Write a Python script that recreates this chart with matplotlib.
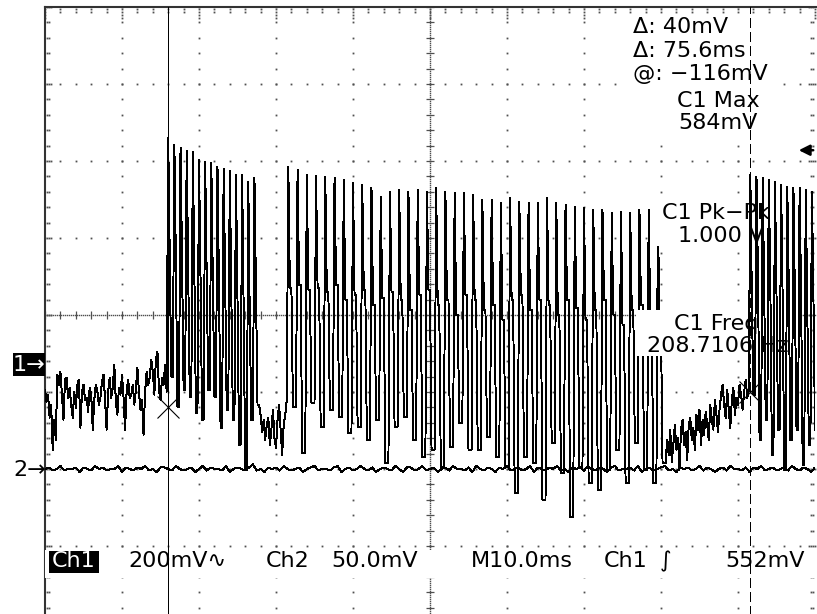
import numpy as np
import matplotlib
matplotlib.use("Agg")
import matplotlib.pyplot as plt
from matplotlib.patches import Rectangle

# ---- channel 1 readings (mV), 0.2 ms per sample, trigger at t = 0 ----
noise_a_mv = [-70, -101, -83, -143, -109, -226, -148, -200, -31, -57,
              -23, -83, -148, -44, -39, -91, -65, -109, -143, -75,
              -117, -57, -44, -169, -75, -57, -96, -91, -127, -65,
              -83, -174, -96, -57, -75, -109, -91, -49, -31, -96,
              -174, -75, -39, -91, -65, -5, -101, -135, -65, -83,
              -31, -91, -174, -75, -44, -91, -83, -57, -109, -70,
              -13, -75, -122, -96, -187, -75, -23, -57, -39, 8,
              -23, -83, 8, 29, -70, -96, -39, -57, -5, -75]

burst1_peak_mv = [584, 566, 558, 551, 548, 527, 522, 519, 509, 504, 499, 488, 488, 470, 480]
burst1_mid_mv = [280, 255, 262, 242, 229, 216, 221, 203, 190, 208, 184, 164, 138, 99, 177]
burst1_low_mv = [-36, -114, -70, -88, -130, -148, -70, -88, -169, -122, -148, -213, -278, -148, -109]

noise_b_mv = [-135, -179, -148, -200, -161, -143, -213, -174, -122, -195,
              -221, -148, -109, -174, -239, -161, -135, -96]

burst2_peak_mv = [509, 501, 488, 486, 483, 480, 475, 467, 462, 454,
                  431, 444, 449, 444, 449, 444, 454, 444, 441, 441,
                  436, 423, 423, 416, 429, 418, 416, 416, 429, 416,
                  410, 405, 403, 397, 397, 390, 392, 390, 397, 397, 392]
burst2_mid_mv = [195, 203, 190, 195, 184, 203, 164, 177, 190, 151,
                 169, 184, 164, 138, 177, 190, 151, 164, 125, 177,
                 164, 138, 151, 112, 164, 177, 138, 164, 151, 125,
                 164, 143, 112, 138, 164, 125, 99, 138, 151, 117, 86]
burst2_low_mv = [-114, -234, -104, -166, -122, -140, -182, -166, -200, -148,
                 -260, -166, -140, -200, -244, -226, -270, -218, -156, -226,
                 -226, -192, -244, -270, -338, -244, -260, -356, -208, -286,
                 -400, -270, -312, -330, -278, -226, -312, -208, -278, -312, -260]

noise_c_mv = [-200, -239, -174, -257, -213, -161, -226, -195, -278, -174,
              -148, -213, -179, -252, -161, -143, -200, -169, -226, -135,
              -174, -122, -213, -148, -187, -127, -161, -200, -109, -148,
              -174, -96, -135, -179, -122, -83, -57, -109, -143, -70,
              -122, -169, -96, -65, -135, -91, -109, -57, -83, -122,
              -75, -44, -91, -70]

burst3_peak_mv = [488, 483, 480, 475, 470, 462, 457, 454, 454, 449, 444]
burst3_mid_mv = [164, 216, 190, 203, 177, 164, 190, 151, 164, 138, 164]
burst3_low_mv = [-83, -200, -148, -239, -174, -278, -200, -174, -265, -213, -174]

# ---- channel 2 readings (mV), 0.5 ms per sample ----
ch2_mv = [0, 1, -1, 0, 2, -1, 0, 0, 1, -2, 1, 0, -1, 2, 0, 1, -1, 0, 0, 2,
          -2, 1, 0, -1, 1, 0, 2, -1, 0, -2, 1, 1, 0, -1, 2, 0, -1, 0, 1, -2,
          0, 2, -1, 1, 0, 0, -1, 2, -2, 0, 1, 0, -1, 1, 3, -1, 0, -2, 1, 0,
          1, -1, 2, 0, -1, 0, 1, -2, 0, 1, 2, -1, 0, 0, -1, 1, 2, -2, 0, 1,
          -1, 0, 2, 0, -1, 1, -2, 0, 1, 0, -1, 2, 0, -2, 1, 1, -1, 0, 2, -1,
          0, 1, -2, 0, 1, -1, 2, 0, 0, -1, 1, -2, 2, 0, -1, 1, 0, -2, 1, 0,
          2, -1, 0, 1, -1, 0, 2, -2, 1, 0, -1, 1, 0, 2, -1, 0, -2, 1, 0, 1,
          -1, 2, 0, -1, 1, 0, -2, 1, 2, -1, 0, 0, 1, -1, 2, -2, 0, 1, -1, 0,
          1, 2, -1, 0, -2, 1, 0, 1, -1, 0, 2, -1, 1, 0, -2, 0, 1, -1, 2, 0,
          0, -1, 1, -2, 1, 0, 2, -1, 0, 1, -1, 0, 1, -1, 2, 0, -1, 1, 0, -2,
          1, 0]

cursor_t = [0.0, 75.6]       # ms
cursor_mv = [-116, -76]      # mV on ch1
trig_mv = 552
ch1_max_mv = 584
ch1_pkpk_v = 1.000
ch1_freq_hz = 208.7106

CH1_SCALE, CH2_SCALE = 200.0, 50.0    # mV/div
CH1_POS, CH2_POS = -0.62, -2.0        # div from centre
T0, DT1, DT2 = -16.0, 0.2, 0.5        # ms

# ---- screen geometry (px) ----
W, H = 817, 614
X0, Y0, DIV = 45, 7, 77
MS_PX = 10.0 / DIV
DV_PX = 1.0 / DIV


def fx(px):
    return px / W


def fy(py):
    return 1 - py / H


def burst(peaks, mids, lows, pattern):
    seq = []
    for p, m, l in zip(peaks, mids, lows):
        lvl = {"p": p, "m": m, "l": l}
        seq += [lvl[c] for c in pattern]
    return seq


ch1 = (noise_a_mv
       + burst(burst1_peak_mv, burst1_mid_mv, burst1_low_mv, "pmll")
       + noise_b_mv
       + burst(burst2_peak_mv, burst2_mid_mv, burst2_low_mv, "pmmlll")
       + noise_c_mv)
split = len(ch1)
ch1 = ch1 + burst(burst3_peak_mv, burst3_mid_mv, burst3_low_mv, "pmll")
ch1 = np.array(ch1, dtype=float)
t1 = T0 + DT1 * np.arange(len(ch1))
y1 = ch1 / CH1_SCALE + CH1_POS

t2 = T0 + DT2 * np.arange(len(ch2_mv))
y2 = np.array(ch2_mv, dtype=float) / CH2_SCALE + CH2_POS

fig = plt.figure(figsize=(W / 100, H / 100), dpi=100)
ax = fig.add_axes([fx(X0), fy(Y0 + 8 * DIV), 10 * DIV / W, 8 * DIV / H])
ax.set_xlim(T0, T0 + 100)
ax.set_ylim(-4, 4)
ax.axis("off")

# ---- graticule ----
gcol = "#505050"
dot = dict(ls="none", marker="s", ms=1.3, mew=0, color=gcol, zorder=1, clip_on=False)
t_major = T0 + 10 * np.arange(11)
v_major = np.arange(-4, 5)
t_minor = T0 + 2 * np.arange(51)
v_minor = -4 + 0.2 * np.arange(41)
tc = T0 + 50

dx, dy = [], []
for t in t_major[1:-1]:
    if abs(t - tc) > 1e-6:
        dx += [t] * len(v_minor)
        dy += list(v_minor)
for v in v_major[1:-1]:
    if v != 0:
        dx += list(t_minor)
        dy += [v] * len(t_minor)
# border ticks
for v in v_minor:
    n = 3 if abs(v - round(v)) < 1e-6 else 2
    for k in range(n):
        dx += [T0 + (2 + 2 * k) * MS_PX, T0 + 100 - (2 + 2 * k) * MS_PX]
        dy += [v, v]
for t in t_minor:
    n = 4 if abs((t - T0) % 10) < 1e-6 else 2
    for k in range(n):
        dx.append(t)
        dy.append(4 - (2 + 3 * k) * DV_PX)
ax.plot(dx, dy, **dot)

# centre lines: dense dots plus cross bars
dense_v = np.arange(-4, 4, 2 * DV_PX)
dense_t = np.arange(T0, T0 + 100, 2 * MS_PX)
ax.plot([tc] * len(dense_v), dense_v, **dict(dot, ms=1.0))
ax.plot(dense_t, [0] * len(dense_t), **dict(dot, ms=1.0))
ax.hlines(v_minor, tc - 4 * MS_PX, tc + 4 * MS_PX, color=gcol, lw=0.9, zorder=1)
ax.vlines(t_minor, -4 * DV_PX, 4 * DV_PX, color=gcol, lw=0.9, zorder=1)

# frame (left and top)
ax.plot([T0, T0], [-4, 4], color="#333333", lw=1.5, zorder=1, clip_on=False)
ax.plot([T0, T0 + 100 + 3 * MS_PX], [4, 4], color="#333333", lw=1.5, zorder=1, clip_on=False)

# ---- traces ----
trace = dict(color="black", lw=0.7, antialiased=False)
ax.plot(t2, y2, zorder=2, **trace)
ax.plot(t1[:split], y1[:split], zorder=3, **trace)
ax.plot(t1[split - 1:], y1[split - 1:], zorder=6, **trace)

# ---- white readout areas ----
for (a, b, c, d) in [(628, 14, 772, 134), (655, 200, 775, 246),
                     (636, 310, 798, 356), (X0, 550, 815, 578)]:
    ax.add_patch(Rectangle((fx(a), fy(d)), (c - a) / W, (d - b) / H,
                           transform=fig.transFigure, fc="white", ec="none",
                           zorder=4, clip_on=False))

fs = 16
txt = dict(transform=fig.transFigure, fontsize=fs, family="DejaVu Sans",
           color="black", zorder=5, va="baseline")
ax.text(fx(633), fy(33), f"Δ: {cursor_mv[1] - cursor_mv[0]}mV", ha="left", **txt)
ax.text(fx(633), fy(57), f"Δ: {cursor_t[1] - cursor_t[0]:.1f}ms", ha="left", **txt)
ax.text(fx(633), fy(80), f"@: \u2212{abs(cursor_mv[0])}mV", ha="left", **txt)
ax.text(fx(718), fy(107), "C1 Max", ha="center", **txt)
ax.text(fx(718), fy(129), f"{ch1_max_mv}mV", ha="center", **txt)
ax.text(fx(716), fy(219), "C1 Pk\u2212Pk", ha="center", **txt)
ax.text(fx(721), fy(242), f"{ch1_pkpk_v:.3f} V", ha="center", **txt)
ax.text(fx(716), fy(330), "C1 Freq", ha="center", **txt)
ax.text(fx(718), fy(352), f"{ch1_freq_hz:.4f} Hz", ha="center", **txt)

# bottom status line
by = 567
ax.add_patch(Rectangle((fx(49), fy(by + 6)), 50 / W, 22 / H, transform=fig.transFigure,
                       fc="black", ec="none", zorder=5, clip_on=False))
ax.text(fx(74), fy(by), "Ch1", ha="center", **dict(txt, color="white"))
ax.text(fx(128), fy(by), f"{int(CH1_SCALE)}mV\u223f", ha="left", **txt)
ax.text(fx(266), fy(by), "Ch2", ha="left", **txt)
ax.text(fx(331), fy(by), f"{CH2_SCALE:.1f}mV", ha="left", **txt)
ax.text(fx(471), fy(by), "M10.0ms", ha="left", **txt)
ax.text(fx(604), fy(by), "Ch1", ha="left", **txt)
ax.text(fx(660), fy(by), "\u222b", ha="left", **txt)
ax.text(fx(805), fy(by), f"{trig_mv}mV", ha="right", **txt)

# channel markers
ax.add_patch(Rectangle((fx(13), fy(376)), 32 / W, 23 / H, transform=fig.transFigure,
                       fc="black", ec="none", zorder=5, clip_on=False))
ax.text(fx(29), fy(371), "1\u2192", ha="center", **dict(txt, color="white"))
ax.text(fx(30), fy(476), "2\u2192", ha="center", **txt)

# trigger level arrow
trig_y = trig_mv / CH1_SCALE + CH1_POS
ax.annotate("", xy=(T0 + 100 - 19 * MS_PX, trig_y), xytext=(T0 + 100 + 1 * MS_PX, trig_y),
            arrowprops=dict(arrowstyle="-|>", lw=1.8, color="black", mutation_scale=16),
            zorder=7, annotation_clip=False)

# ---- cursors ----
ax.plot([cursor_t[0]] * 2, [-4, 4], color="black", lw=0.6, antialiased=False, zorder=7)
ax.plot([cursor_t[1]] * 2, [-4, 4], color="black", lw=0.6, ls=(0, (12, 5)),
        antialiased=False, zorder=7)
ax.plot(cursor_t, np.array(cursor_mv) / CH1_SCALE + CH1_POS, "x", ms=16, mew=0.8,
        color="black", zorder=7)

fig.savefig("out.png", dpi=100, facecolor="white")
